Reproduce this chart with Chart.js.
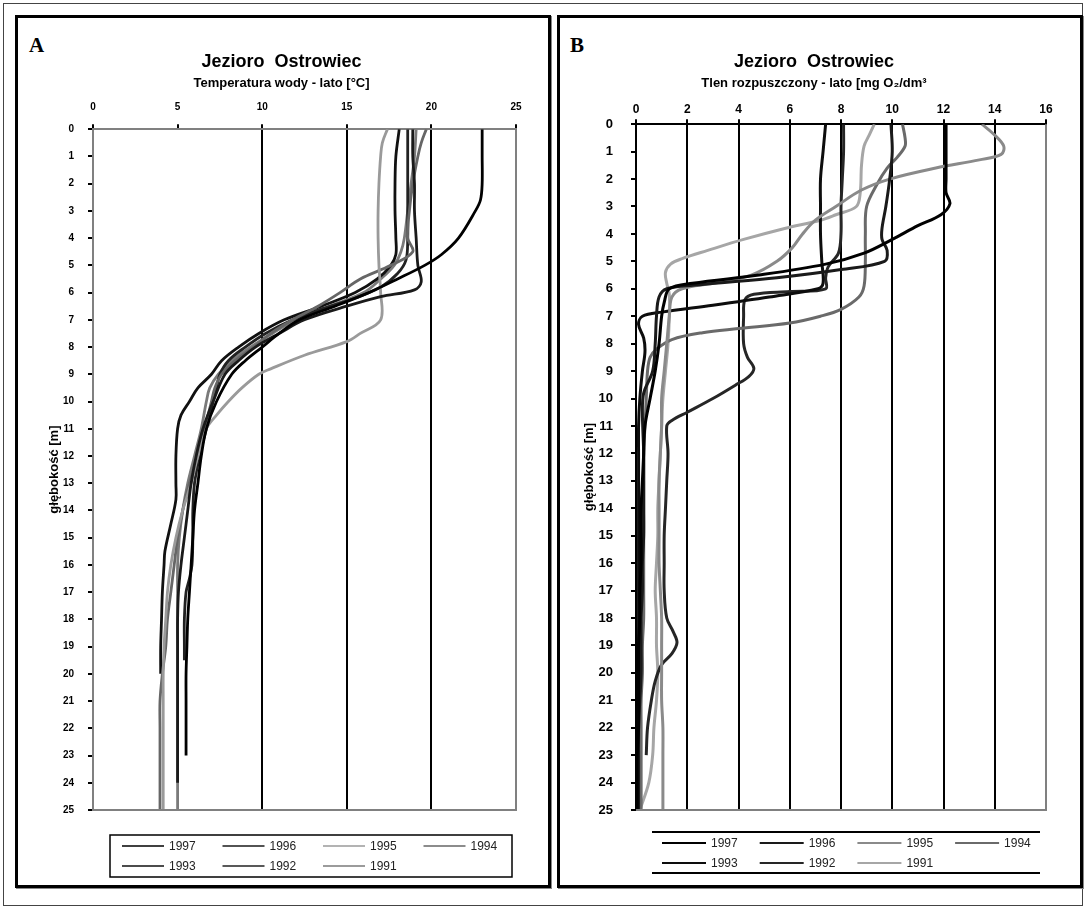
<!DOCTYPE html>
<html>
<head>
<meta charset="utf-8">
<script src="https://cdn.jsdelivr.net/npm/chart.js@4.4.0/dist/chart.umd.min.js"></script>
<style>
body{margin:0;background:#fff;width:1086px;height:909px;position:relative;overflow:hidden;font-family:"Liberation Sans",Arial,sans-serif}
#frame{position:absolute;left:3px;top:3px;width:1078px;height:901px;border:1px solid #444}
.panel{position:absolute;top:15px;height:873px;border:3px solid #000;box-sizing:border-box;box-shadow:1px 1px 0 #888}
#panelA{left:15px;width:536px}
#panelB{left:557px;width:526px}
.tag{position:absolute;font:bold 21px "Liberation Serif","Times New Roman",serif;color:#000}
canvas{position:absolute}
</style>
</head>
<body>
<div id="frame"></div>
<div class="panel" id="panelA"></div>
<div class="panel" id="panelB"></div>
<div class="tag" style="left:29px;top:33px">A</div>
<div class="tag" style="left:570px;top:33px">B</div>
<canvas id="chartA" width="525" height="860" style="left:20px;top:20px;width:525px;height:860px"></canvas>
<canvas id="chartB" width="516" height="860" style="left:562px;top:20px;width:516px;height:860px"></canvas>
<script>
// years shown in both legends
var years = ['1997', '1996', '1995', '1994', '1993', '1992', '1991'];

// A: water temperature [°C] — pairs of [depth m, value]
var temp1997 = [[0,23.0],[1,23.0],[2,23.0],[2.6,22.9],[3,22.6],[4,21.6],[4.6,20.6],[5,19.6],[5.5,18.0],[6,16.3],[6.5,14.3],[7,12.2],[7.5,11.0],[8,10.0],[8.5,9.0],[9,8.2],[10,7.3],[11,6.7],[12,6.4],[13,6.2],[14,6.0],[15,5.9],[16,5.8],[17,5.7],[18,5.6],[19,5.55],[20,5.5],[21,5.5],[22,5.5],[23,5.5]];
var temp1996 = [[0,18.9],[1,18.9],[2,19.0],[3,19.0],[4,19.1],[5,19.2],[5.6,19.4],[5.9,19.0],[6.15,17.0],[6.5,15.0],[7,12.5],[7.5,11.0],[8,9.6],[8.5,8.6],[9,7.8],[10,7.1],[11,6.5],[12,6.1],[13,5.8],[14,5.6],[15,5.4],[16,5.2],[17,5.05],[18,5.0],[19,5.0],[20,5.0],[21,5.0],[22,5.0],[23,5.0],[24,5.0]];
var temp1995 = [[0,17.4],[0.5,17.1],[1,17.0],[2,16.9],[3,16.85],[4,16.85],[5,16.9],[6,17.0],[7,17.0],[7.5,15.8],[7.8,15.0],[8.3,12.5],[8.8,10.5],[9,9.8],[9.5,8.8],[10,8.0],[10.5,7.3],[11,6.7],[12,6.2],[13,5.8],[14,5.3],[15,4.9],[16,4.6],[17,4.4],[18,4.3],[19,4.2],[20,4.15],[21,4.15],[22,4.15],[23,4.15],[24,4.15],[25,4.15]];
var temp1994 = [[0,19.7],[0.5,19.4],[1,19.2],[2,18.9],[3,18.7],[4,18.6],[4.5,18.9],[5,17.6],[5.5,15.8],[6,14.6],[6.5,13.3],[7,11.8],[7.5,10.5],[8,9.5],[8.5,8.4],[9,7.6],[9.5,7.2],[10,7.0],[11,6.6],[12,6.2],[13,5.7],[14,5.3],[15,5.0],[16,4.8],[17,4.6],[18,4.4],[19,4.3],[20,4.1],[21,3.96],[22,3.96],[23,3.96],[24,3.96],[25,3.96]];
var temp1993 = [[0,18.1],[1,17.9],[2,17.85],[3,17.85],[4,17.9],[4.6,17.9],[5,17.6],[5.5,16.8],[6,15.5],[6.5,13.5],[7,11.3],[7.5,9.8],[8,8.6],[8.5,7.6],[9,7.0],[9.5,6.2],[10,5.7],[10.5,5.2],[11,5.0],[12,4.9],[13,4.9],[13.6,4.9],[14.5,4.6],[15.5,4.25],[16,4.2],[17,4.1],[18,4.05],[19,4.0],[20,4.0]];
var temp1992 = [[0,18.6],[1,18.6],[2,18.6],[3,18.6],[4,18.6],[4.8,18.5],[5.3,18.0],[5.8,17.0],[6.2,15.5],[6.6,13.5],[7,11.8],[7.5,10.2],[8,9.0],[8.5,8.0],[9,7.5],[9.5,7.3],[10,7.1],[11,6.7],[12,6.3],[13,6.0],[14,5.9],[15,5.9],[16,5.85],[16.5,5.7],[17,5.5],[18,5.4],[19,5.4],[19.5,5.4]];
var temp1991 = [[0,19.1],[1,19.0],[2,18.8],[3,18.6],[4,18.4],[4.5,18.2],[5,17.8],[5.5,17.0],[6,16.0],[6.5,14.0],[7,12.0],[7.5,10.6],[8,9.3],[8.5,8.2],[9,7.4],[9.5,6.9],[10,6.7],[11,6.4],[12,6.0],[13,5.6],[14,5.3],[15,5.1],[16,5.0],[17,5.0],[18,5.0],[19,5.0],[20,5.0],[21,5.0],[22,5.0],[23,5.0],[24,5.0],[25,5.0]];

// B: dissolved oxygen [mg O2/dm3] — pairs of [depth m, value]
var oxy1997 = [[0,12.1],[1,12.1],[2,12.1],[2.5,12.1],[2.9,12.25],[3.3,11.9],[3.7,11.0],[4.2,10.0],[4.7,8.9],[5.1,7.4],[5.5,4.8],[5.8,2.2],[6.0,1.3],[6.5,1.1],[7,1.0],[8,0.9],[9,0.75],[10,0.55],[11,0.35],[12,0.3],[13,0.25],[14,0.2],[15,0.2],[16,0.2],[17,0.15],[18,0.15],[19,0.1],[20,0.1],[21,0.1],[22,0.1],[23,0.05],[24,0.05],[25,0.05]];
var oxy1996 = [[0,9.95],[1,10.0],[2,9.9],[3,9.75],[3.8,9.6],[4.2,9.6],[4.6,9.8],[5.0,9.7],[5.3,8.0],[5.6,5.5],[5.85,2.5],[6.0,1.2],[6.3,0.9],[7,0.8],[8,0.75],[9,0.65],[9.8,0.3],[10.5,0.25],[12,0.3],[13,0.3],[14,0.3],[15,0.3],[16,0.25],[17,0.25],[18,0.2],[19,0.2],[20,0.2],[21,0.15],[22,0.1],[23,0.1],[24,0.1],[25,0.1]];
var oxy1995 = [[0,13.5],[0.4,14.0],[0.8,14.35],[1.1,14.25],[1.3,13.4],[1.6,11.7],[2.0,9.9],[2.4,8.8],[3.0,7.8],[3.5,7.0],[4.0,6.5],[4.5,6.1],[5.0,5.5],[5.5,4.5],[5.8,3.0],[6.0,1.8],[6.3,1.4],[7,1.3],[8,1.2],[9,1.1],[10,1.0],[11,1.0],[12,0.95],[13,0.9],[14,0.9],[15,0.9],[16,0.9],[17,0.95],[18,1.0],[19,1.0],[20,1.0],[21,1.0],[22,1.05],[23,1.05],[24,1.05],[25,1.05]];
var oxy1994 = [[0,10.4],[0.5,10.5],[0.8,10.5],[1.2,10.2],[1.6,9.8],[2.2,9.4],[3,9.0],[4,8.95],[5,8.95],[5.9,8.9],[6.3,8.7],[6.75,8.0],[7.0,7.2],[7.25,6.0],[7.45,4.0],[7.6,2.6],[7.85,1.4],[8.2,0.8],[8.5,0.55],[9,0.45],[10,0.4],[11,0.35],[12,0.3],[13,0.3],[14,0.3],[15,0.3],[16,0.3],[17,0.3],[18,0.3],[19,0.25],[20,0.25],[21,0.2],[22,0.2],[23,0.2],[24,0.2],[25,0.2]];
var oxy1993 = [[0,7.4],[1,7.3],[2,7.2],[3,7.2],[4,7.2],[5,7.25],[5.8,7.3],[6.0,7.1],[6.3,5.2],[6.6,3.0],[6.85,1.0],[7.0,0.25],[7.3,0.1],[7.8,0.3],[8.3,0.35],[9,0.25],[10,0.15],[11,0.1],[12,0.1],[13,0.1],[14,0.1],[15,0.1],[16,0.1],[17,0.1],[18,0.1],[19,0.1],[20,0.1],[21,0.1],[22,0.1],[23,0.1],[24,0.05],[25,0.0]];
var oxy1992 = [[0,8.1],[1,8.1],[2,8.05],[3,8.0],[4,8.0],[4.7,7.9],[5.2,7.5],[5.6,7.4],[6.0,7.4],[6.1,6.0],[6.2,4.6],[6.4,4.25],[7,4.2],[8,4.2],[8.5,4.35],[8.9,4.6],[9.2,4.4],[9.5,3.9],[10,3.0],[10.5,2.0],[10.8,1.4],[11,1.2],[12,1.25],[13,1.2],[14,1.15],[15,1.1],[16,1.1],[17,1.1],[18,1.2],[18.5,1.45],[18.9,1.6],[19.3,1.4],[19.7,1.0],[20.3,0.75],[21,0.6],[22,0.45],[23,0.4]];
var oxy1991 = [[0,9.3],[0.4,9.1],[0.8,8.9],[1.5,8.8],[2.5,8.75],[3.0,8.6],[3.3,7.8],[3.5,7.2],[3.8,5.8],[4.2,4.2],[4.6,2.8],[4.9,1.8],[5.1,1.35],[5.4,1.15],[5.8,1.2],[6.2,1.3],[7,1.3],[8,1.25],[9,1.15],[10,1.05],[11,1.0],[12,0.95],[13,0.9],[14,0.85],[15,0.85],[16,0.8],[17,0.75],[18,0.8],[19,0.8],[20,0.85],[21,0.8],[22,0.7],[23,0.65],[24,0.5],[25,0.15]];

var tempSeries = [temp1997, temp1996, temp1995, temp1994, temp1993, temp1992, temp1991];
var oxySeries = [oxy1997, oxy1996, oxy1995, oxy1994, oxy1993, oxy1992, oxy1991];

// line looks, per year
var colorsA = ['#000000', '#1a1a1a', '#9a9a9a', '#666666', '#111111', '#222222', '#7a7a7a'];
var colorsB = ['#000000', '#1a1a1a', '#8a8a8a', '#6a6a6a', '#0d0d0d', '#262626', '#a6a6a6'];

Chart.defaults.font.family = '"Liberation Sans", Arial, sans-serif';
Chart.defaults.color = '#000';

// gray right/bottom plot frame + boxed legend drawn on the canvas
var frameAndLegend = {
    id: 'frameAndLegend',
    afterDatasetsDraw: function(chart) {
        var ctx = chart.ctx, a = chart.chartArea;
        ctx.save();
        ctx.lineWidth = 2;
        ctx.strokeStyle = '#808080';
        ctx.beginPath();
        ctx.moveTo(a.right, a.top);
        ctx.lineTo(a.right, a.bottom);
        ctx.lineTo(a.left, a.bottom);
        ctx.stroke();
        ctx.restore();
    },
    afterDraw: function(chart, args, o) {
        var ctx = chart.ctx;
        ctx.save();
        ctx.strokeStyle = '#000';
        ctx.lineWidth = o.boxLine;
        if (o.sides === 'all') {
            ctx.strokeRect(o.x, o.y, o.w, o.h);
        } else {
            ctx.beginPath();
            ctx.moveTo(o.x, o.y); ctx.lineTo(o.x + o.w, o.y);
            ctx.moveTo(o.x, o.y + o.h); ctx.lineTo(o.x + o.w, o.y + o.h);
            ctx.stroke();
        }
        ctx.font = o.font;
        ctx.textBaseline = 'middle';
        chart.data.datasets.forEach(function(ds, i) {
            var sx = o.startX + (i % 4) * o.step;
            var sy = o.rows[Math.floor(i / 4)];
            ctx.strokeStyle = ds.borderColor;
            ctx.lineWidth = o.sampleWidth;
            ctx.beginPath();
            ctx.moveTo(sx, sy);
            ctx.lineTo(sx + o.sampleLen, sy);
            ctx.stroke();
            ctx.fillStyle = '#222';
            ctx.fillText(ds.label, sx + o.sampleLen + 5, sy + 1);
        });
        ctx.restore();
    }
};

function makeDatasets(series, colors, width) {
    return years.map(function(yr, i) {
        return {
            label: yr,
            data: series[i].map(function(p) { return {x: p[1], y: p[0]}; }),
            borderColor: colors[i],
            borderWidth: width,
            pointRadius: 0,
            tension: 0.35,
            fill: false
        };
    });
}

function titleOpts(text) {
    return {display: true, text: text, color: '#000', font: {size: 18, weight: 'bold'}, padding: {top: 31, bottom: 0}};
}

new Chart(document.getElementById('chartA'), {
    type: 'line',
    data: {datasets: makeDatasets(tempSeries, colorsA, 2.8)},
    plugins: [frameAndLegend],
    options: {
        responsive: false,
        animation: false,
        layout: {padding: {left: 27, right: 29, top: 0, bottom: 70}},
        plugins: {
            legend: {display: false},
            tooltip: {enabled: false},
            title: titleOpts('Jezioro  Ostrowiec'),
            subtitle: {display: true, text: 'Temperatura wody - lato [°C]', color: '#000',
                font: {size: 13, weight: 'bold'}, padding: {top: 3, bottom: 0}},
            frameAndLegend: {x: 90, y: 815, w: 402, h: 42, sides: 'all', boxLine: 1.5,
                startX: 102, step: 100.5, rows: [826, 846], sampleLen: 42, sampleWidth: 1.5,
                font: '12px "Liberation Sans", Arial, sans-serif'}
        },
        scales: {
            x: {
                type: 'linear', position: 'top', min: 0, max: 25,
                ticks: {stepSize: 5, padding: 11, font: {size: 10, weight: 'bold'}},
                grid: {
                    color: function(c) { return [10, 15, 20].indexOf(c.tick.value) >= 0 ? '#000' : 'rgba(0,0,0,0)'; },
                    lineWidth: 2, tickLength: 5, tickColor: '#000'
                },
                border: {color: '#808080', width: 2},
                afterFit: function(s) { s.height = 38; }
            },
            y: {
                type: 'linear', reverse: true, min: 0, max: 25,
                ticks: {stepSize: 1, autoSkip: false, padding: 14, font: {size: 10, weight: 'bold'}},
                grid: {drawOnChartArea: false, tickLength: 5, tickColor: '#000', lineWidth: 2},
                border: {color: '#808080', width: 2},
                title: {display: true, text: 'głębokość [m]', color: '#000', font: {size: 13, weight: 'bold'}, padding: 0},
                afterFit: function(s) { s.width = 46; }
            }
        }
    }
});

new Chart(document.getElementById('chartB'), {
    type: 'line',
    data: {datasets: makeDatasets(oxySeries, colorsB, 3)},
    plugins: [frameAndLegend],
    options: {
        responsive: false,
        animation: false,
        layout: {padding: {left: 20, right: 32, top: 0, bottom: 70}},
        plugins: {
            legend: {display: false},
            tooltip: {enabled: false},
            title: titleOpts('Jezioro  Ostrowiec'),
            subtitle: {display: true, text: 'Tlen rozpuszczony - lato [mg O₂/dm³', color: '#000',
                font: {size: 13, weight: 'bold'}, padding: {top: 3, bottom: 0}},
            frameAndLegend: {x: 90, y: 812, w: 388, h: 41, sides: 'tb', boxLine: 2,
                startX: 100, step: 97.7, rows: [823, 843], sampleLen: 44, sampleWidth: 2,
                font: '12px "Liberation Sans", Arial, sans-serif'}
        },
        scales: {
            x: {
                type: 'linear', position: 'top', min: 0, max: 16,
                ticks: {stepSize: 2, padding: 2, font: {size: 12, weight: 'bold'}},
                grid: {
                    color: function(c) { return (c.tick.value > 0 && c.tick.value < 16) ? '#000' : 'rgba(0,0,0,0)'; },
                    lineWidth: 2, tickLength: 5, tickColor: '#000'
                },
                border: {color: '#000', width: 2},
                afterFit: function(s) { s.height = 33; }
            },
            y: {
                type: 'linear', reverse: true, min: 0, max: 25,
                ticks: {stepSize: 1, autoSkip: false, padding: 18, font: {size: 13, weight: 'bold'}},
                grid: {drawOnChartArea: false, tickLength: 5, tickColor: '#000', lineWidth: 2},
                border: {color: '#000', width: 2},
                title: {display: true, text: 'głębokość [m]', color: '#000', font: {size: 13, weight: 'bold'}, padding: 0},
                afterFit: function(s) { s.width = 54; }
            }
        }
    }
});
</script>
</body>
</html>
